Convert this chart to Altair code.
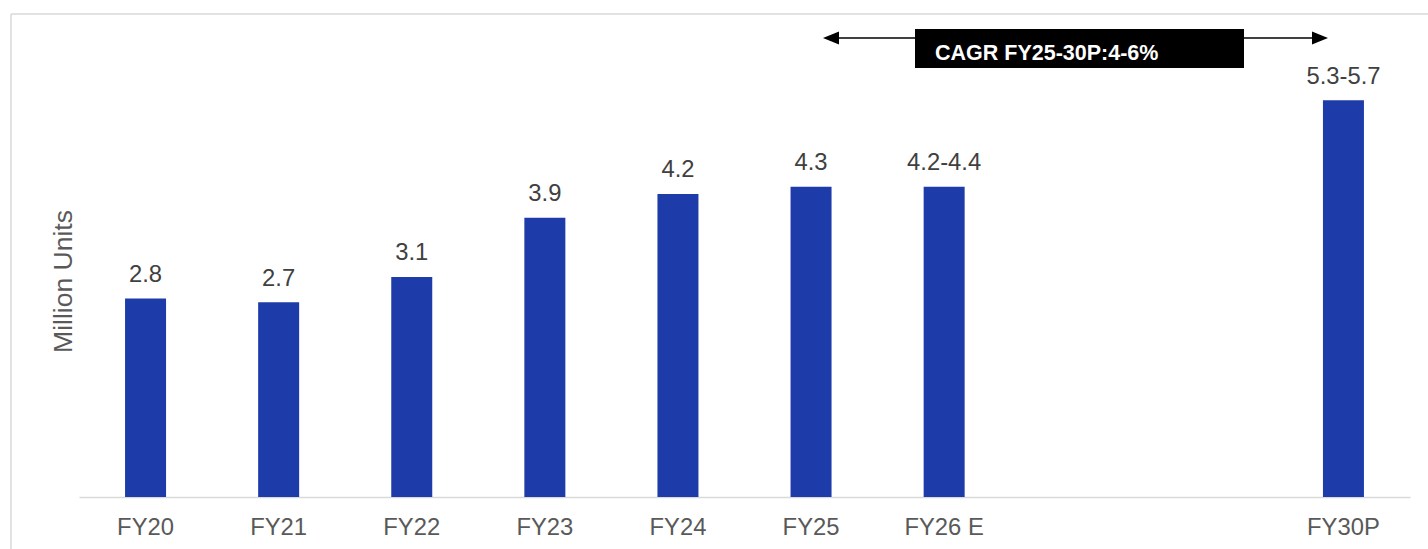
import altair as alt
import pandas as pd

# ---- data ----
domain_slots = ["FY20", "FY21", "FY22", "FY23", "FY24", "FY25", "FY26 E", "FY27", "FY28", "FY30P"]
hidden_slots = ["FY27", "FY28"]
categories = ["FY20", "FY21", "FY22", "FY23", "FY24", "FY25", "FY26 E", "FY30P"]
values = [2.75, 2.7, 3.05, 3.87, 4.2, 4.3, 4.3, 5.5]
labels = ["2.8", "2.7", "3.1", "3.9", "4.2", "4.3", "4.2-4.4", "5.3-5.7"]
cagr_text = "CAGR FY25-30P:4-6%"
y_title = "Million Units"

df = pd.DataFrame({"cat": categories, "val": values, "lab": labels})

FONT = "Liberation Sans"
BAR = "#1E3BAA"
W, H = 1331, 469

x_enc = alt.X(
    "cat:N",
    sort=domain_slots,
    scale=alt.Scale(domain=domain_slots, type="band", paddingInner=0, paddingOuter=0),
    axis=alt.Axis(
        title=None,
        labelAngle=0,
        ticks=False,
        tickSize=0,
        domainColor="#d9d9d9",
        domainWidth=1.5,
        labelFont=FONT,
        labelFontSize=23.8,
        labelColor="#595959",
        labelBaseline="alphabetic",
        labelPadding=37,
        labelExpr="indexof(['FY27','FY28'], datum.value) >= 0 ? '' : datum.value",
    ),
)
y_enc = alt.Y(
    "val:Q",
    scale=alt.Scale(domain=[0, 6.5], nice=False, zero=True),
    axis=alt.Axis(
        title=y_title,
        domain=False,
        ticks=False,
        labels=False,
        grid=False,
        titleFont=FONT,
        titleFontSize=26.5,
        titleFontWeight="normal",
        titleColor="#595959",
        titleAngle=270,
        titleAlign="center",
        titleBaseline="alphabetic",
        titleX=-8,
        titleY=253,
    ),
)

base = alt.Chart(df)
bars = base.mark_bar(size=41, color=BAR).encode(x=x_enc, y=y_enc)
texts = base.mark_text(
    dy=-16.5, baseline="alphabetic", fontSize=23.8, font=FONT, color="#404040"
).encode(x=alt.X("cat:N", sort=domain_slots), y="val:Q", text="lab:N")

one = alt.Data(values=[{"a": 1}])
frame_left = alt.Chart(one).mark_rule(color="#d9d9d9", strokeWidth=1.5).encode(
    x=alt.value(-68), y=alt.value(-14), y2=alt.value(530)
)
frame_top = alt.Chart(one).mark_rule(color="#d9d9d9", strokeWidth=1.5).encode(
    x=alt.value(-68), x2=alt.value(1360), y=alt.value(-14)
)
arrow_line = alt.Chart(one).mark_rule(color="black", strokeWidth=1.5).encode(
    x=alt.value(750), x2=alt.value(1243), y=alt.value(10)
)
head_r = alt.Chart(one).mark_point(
    shape="M-1,-0.8L1,0L-1,0.8Z", size=256, filled=True, color="black", opacity=1
).encode(x=alt.value(1241), y=alt.value(10))
head_l = alt.Chart(one).mark_point(
    shape="M1,-0.8L-1,0L1,0.8Z", size=256, filled=True, color="black", opacity=1
).encode(x=alt.value(752), y=alt.value(10))
box = alt.Chart(one).mark_rect(color="black").encode(
    x=alt.value(836), x2=alt.value(1165), y=alt.value(1), y2=alt.value(40)
)
box_text = alt.Chart(one).mark_text(
    text=cagr_text, color="white", font=FONT, fontSize=21.5, fontWeight="bold",
    align="left", baseline="alphabetic"
).encode(x=alt.value(856), y=alt.value(32))

chart = alt.layer(
    frame_left, frame_top, bars, texts, arrow_line, head_l, head_r, box, box_text
).properties(
    width=W,
    height=H,
    autosize=alt.AutoSizeParams(type="none"),
    padding={"left": 79, "top": 28, "right": 18, "bottom": 52},
    background="white",
).configure_view(stroke=None)

chart.save("out.html", embed_options={"renderer": "svg", "actions": False})
